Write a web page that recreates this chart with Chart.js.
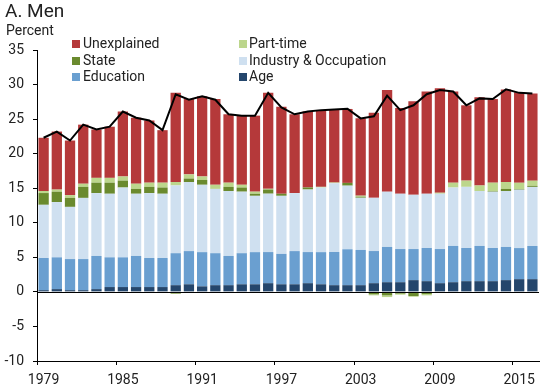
<!DOCTYPE html>
<html><head><meta charset="utf-8">
<script src="https://cdn.jsdelivr.net/npm/chart.js@4"></script>
<style>
body{margin:0;background:#fff;}
#wrap{position:relative;width:550px;height:390px;font-family:Roboto,sans-serif;color:#222;}
canvas{position:absolute;left:0;top:0;}
.t{position:absolute;white-space:nowrap;line-height:1.2;}
.mk{position:absolute;width:8px;height:8px;}
.lt{position:absolute;font-size:14px;line-height:16px;white-space:nowrap;}
</style></head><body>
<div id="wrap"><canvas id="c" width="550" height="390"></canvas>
<div class="t" style="left:5px;top:0px;font-size:19px;">A. Men</div>
<div class="t" style="left:6px;top:22px;font-size:14px;">Percent</div>
<div id="legend"></div>
</div>
<script>
const years = [1979,1980,1981,1982,1983,1984,1985,1986,1987,1988,1989,1990,1991,1992,1993,1994,1995,1996,1997,1998,1999,2000,2001,2002,2003,2004,2005,2006,2007,2008,2009,2010,2011,2012,2013,2014,2015,2016];
const tickYears = [1979,1985,1991,1997,2003,2009,2015];
const yTicks = [35,30,25,20,15,10,5,0,-5,-10];

const age = [0.25,0.4,0.25,0.25,0.4,0.7,0.7,0.7,0.7,0.7, 0.97,1.1,0.8,0.97,0.97,1.1,1.1,1.26,1.1,1.1, 1.26,1.1,0.97,0.97,0.97,1.26,1.4,1.4,1.7,1.55, 1.26,1.4,1.55,1.55,1.55,1.7,1.84,1.84];
const education = [4.65,4.6,4.5,4.5,4.8,4.3,4.3,4.5,4.2,4.2, 4.63,4.8,4.95,4.63,4.23,4.5,4.65,4.5,4.4,4.8, 4.5,4.65,4.8,5.2,5.1,4.65,5.1,4.8,4.5,4.8, 4.94,5.25,4.8,5.1,4.8,4.8,4.5,4.8];
const industry = [7.7,8.0,7.55,8.85,9.1,9.2,10.1,9.0,9.4,9.3, 9.8,10.0,9.75,9.3,9.4,8.9,8.15,8.45,8.4,8.4, 9.05,9.35,9.95,9.2,7.55,7.7,8.0,8.0,7.85,7.85, 8.0,8.45,8.85,7.95,8.15,8.1,8.45,8.55];
const state = [1.7,1.5,1.3,1.6,1.5,1.6,1.0,0.7,0.9,0.9, -0.25,0.5,0.7,0,0.6,0.6,0.3,0.6,0.3,0, 0.3,0,0,0.4,0.15,-0.35,-0.5,-0.25,-0.6,-0.3, 0,0,0,0,0.1,0.3,0.1,0.15];
const partTime = [0.3,0.3,0.4,0.45,0.7,0.7,0.6,0.75,0.6,0.7, 0.5,0.6,0.5,0.6,0.6,0.4,0.3,0.1,0,0, 0,0.1,0.1,0,0.15,-0.15,-0.25,-0.15,-0.1,-0.2, 0.15,0.7,0.9,0.8,1.2,1.0,0.9,0.75];
const unexplained = [7.7,8.4,7.9,8.55,7.0,7.4,9.4,9.55,9.0,7.6, 12.9,10.9,11.6,12.4,9.9,10.0,11.0,13.9,12.6,11.4, 11.0,11.1,10.6,10.7,11.2,12.3,14.7,12.4,13.55,14.8, 15.1,13.2,10.9,12.75,12.1,13.4,13.1,12.6];
const total = [22.3,23.2,21.9,24.2,23.5,23.9,26.1,25.2,24.8,23.4, 28.6,27.8,28.3,27.8,25.7,25.5,25.5,28.8,26.7,25.7, 26.1,26.3,26.4,26.5,25.1,25.4,28.4,26.3,27.0,28.6, 29.2,29.0,27.0,28.0,27.9,29.3,28.8,28.7];

const colors = {
  age:'#24466c', education:'#6a9fd0', industry:'#cfe0f0',
  state:'#6a8a2e', partTime:'#bcd68c', unexplained:'#b5393a'
};

// legend (two columns, three rows)
const legendItems = [
  ['Unexplained', colors.unexplained, 0, 0], ['Part-time', colors.partTime, 1, 0],
  ['State', colors.state, 0, 1], ['Industry & Occupation', colors.industry, 1, 1],
  ['Education', colors.education, 0, 2], ['Age', colors.age, 1, 2]
];
const lg = document.getElementById('legend');
legendItems.forEach(([name, col, c, r]) => {
  const mx = c === 0 ? 72 : 239, tx = c === 0 ? 83 : 249;
  const my = 40 + r * 16.6, ty = 35 + r * 16.6;
  const m = document.createElement('div'); m.className = 'mk';
  m.style.left = mx + 'px'; m.style.top = my + 'px'; m.style.background = col;
  const t = document.createElement('div'); t.className = 'lt';
  t.style.left = tx + 'px'; t.style.top = ty + 'px'; t.textContent = name;
  lg.appendChild(m); lg.appendChild(t);
});

const zeroLine = {
  id: 'zeroLine',
  afterDatasetsDraw(chart) {
    const y = Math.round(chart.scales.y.getPixelForValue(0)) + 0.5;
    const ctx = chart.ctx;
    ctx.save(); ctx.strokeStyle = '#000'; ctx.lineWidth = 1;
    ctx.beginPath(); ctx.moveTo(chart.chartArea.left, y); ctx.lineTo(chart.chartArea.right, y); ctx.stroke();
    ctx.restore();
  }
};

const barDs = (label, data, color) => ({
  type: 'bar', label, data, backgroundColor: color, borderWidth: 0,
  stack: 'bars', order: 1, barPercentage: 0.78, categoryPercentage: 1
});

const font = { family: 'Roboto', size: 14 };

new Chart(document.getElementById('c'), {
  data: {
    labels: years.map(String),
    datasets: [
      { type: 'line', label: 'Total', data: total, borderColor: '#000', borderWidth: 2,
        pointRadius: 0, tension: 0, stack: 'line', order: 0, fill: false },
      barDs('Age', age, colors.age),
      barDs('Education', education, colors.education),
      barDs('Industry & Occupation', industry, colors.industry),
      barDs('State', state, colors.state),
      barDs('Part-time', partTime, colors.partTime),
      barDs('Unexplained', unexplained, colors.unexplained)
    ]
  },
  options: {
    responsive: false, animation: false, devicePixelRatio: 1,
    layout: { padding: { top: 50, right: 11, left: 0, bottom: 0 } },
    plugins: { legend: { display: false }, tooltip: { enabled: false } },
    scales: {
      x: {
        type: 'category', offset: true,
        afterFit: s => { s.height = 29; },
        grid: { offset: true, drawOnChartArea: false, drawTicks: true, tickLength: 4,
          color: c => (c.index !== undefined && tickYears.includes(years[c.index])) ? '#000' : 'rgba(0,0,0,0)' },
        border: { display: true, color: '#000', width: 1 },
        ticks: { autoSkip: false, maxRotation: 0, minRotation: 0, padding: 7, color: '#222', font,
          callback: function (v, i) { return tickYears.includes(years[i]) ? String(years[i]) : ''; } }
      },
      y: {
        stacked: true, min: -10, max: 35,
        afterFit: s => { s.width = 37; },
        afterBuildTicks: s => { s.ticks = yTicks.map(v => ({ value: v })); },
        grid: { drawOnChartArea: false, drawTicks: true, tickLength: 4, color: '#000' },
        border: { display: true, color: '#000', width: 1 },
        ticks: { padding: 9, color: '#222', font, callback: v => String(v) }
      }
    }
  },
  plugins: [zeroLine]
});
</script>
</body></html>
